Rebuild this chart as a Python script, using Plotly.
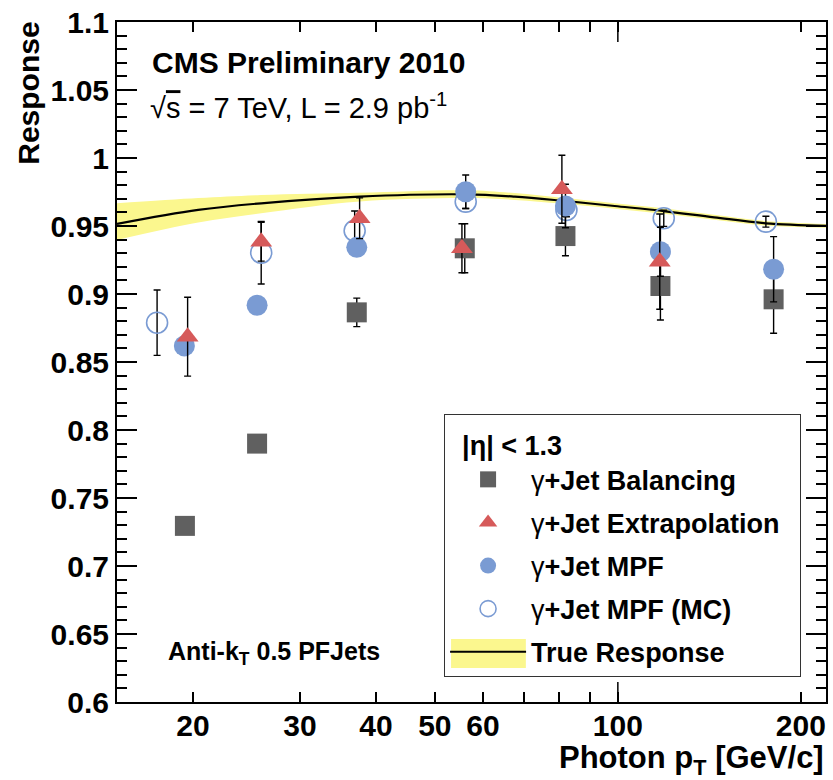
import plotly.graph_objects as go

# ---------------- data ----------------
bal_x = [19.4, 25.5, 37.2, 56.0, 82.0, 117.5, 180.4]
bal_y = [0.7295, 0.790, 0.8865, 0.9336, 0.9426, 0.9059, 0.8961]
bal_err = [0.004, 0.004, 0.0105, 0.018, 0.0145, 0.025, 0.025]

ext_x = [19.6, 25.9, 37.6, 55.4, 80.9, 117.2]
ext_y = [0.8686, 0.9385, 0.9557, 0.9336, 0.977, 0.9238]
ext_err = [0.029, 0.0143, 0.015, 0.018, 0.025, 0.035]

mpf_x = [19.36, 25.5, 37.2, 56.2, 82.0, 117.5, 180.4]
mpf_y = [0.8618, 0.8917, 0.9343, 0.9752, 0.9647, 0.9311, 0.9182]
mpf_err = [0.006, 0.006, 0.006, 0.0123, 0.016, 0.018, 0.024]

mc_x = [17.46, 25.9, 36.9, 56.2, 82.3, 119.0, 175.2]
mc_y = [0.8789, 0.9304, 0.9465, 0.9679, 0.9618, 0.9557, 0.9532]
mc_err = [0.024, 0.023, 0.0145, 0.005, 0.005, 0.006, 0.004]

true_x = [15.0, 20.4, 25.9, 37.6, 56.2, 67.7, 80.9, 98.8, 119.0, 144.0, 175.0, 220.0]
true_y = [0.9515, 0.9618, 0.9667, 0.9716, 0.9733, 0.9716, 0.9686, 0.9647, 0.9610, 0.9564, 0.9520, 0.9502]
band_hi = [0.9667, 0.9705, 0.9728, 0.9745, 0.9763, 0.9742, 0.9708, 0.9668, 0.9630, 0.9583, 0.9537, 0.9515]
band_lo = [0.9397, 0.9525, 0.9593, 0.9680, 0.9705, 0.9692, 0.9665, 0.9627, 0.9590, 0.9546, 0.9503, 0.9488]

x_tickvals = [20, 30, 40, 50, 60, 70, 80, 90, 100, 200]
x_ticktext = ["20", "30", "40", "50", "60", "", "", "", "100", "200"]
y_tickvals = [0.6, 0.65, 0.7, 0.75, 0.8, 0.85, 0.9, 0.95, 1.0, 1.05, 1.1]
y_ticktext = ["0.6", "0.65", "0.7", "0.75", "0.8", "0.85", "0.9", "0.95", "1", "1.05", "1.1"]

# ---------------- style ----------------
FONT = "Liberation Sans, Arial, Helvetica, sans-serif"
C_BAL = "#606060"
C_EXT = "#d65a5a"
C_MPF = "#7a9bd3"
C_BAND = "#fbf78e"

W, H = 833, 780
ML, MR, MT, MB = 117, 5, 22, 78
PW, PH = W - ML - MR, H - MT - MB


def px(x):
    return (x - ML) / PW


def py(y):
    return (H - MB - y) / PH


G = "<span style='font-weight:normal'>γ</span>"

fig = go.Figure()

# True response band + line
fig.add_trace(go.Scatter(x=true_x, y=band_lo, mode="lines", line=dict(width=0, shape="spline"),
                         showlegend=False, hoverinfo="skip"))
fig.add_trace(go.Scatter(x=true_x, y=band_hi, mode="lines", line=dict(width=0, shape="spline"),
                         fill="tonexty", fillcolor=C_BAND, showlegend=False, hoverinfo="skip"))
fig.add_trace(go.Scatter(x=true_x, y=true_y, mode="lines", name="True Response",
                         line=dict(color="black", width=2.2, shape="spline"),
                         legendrank=5, legendgroup="g5"))

err_style = dict(type="data", visible=True, color="black", thickness=1.4, width=3.5)

fig.add_trace(go.Scatter(x=mc_x, y=mc_y, mode="markers", name=G + "+Jet MPF (MC)",
                         marker=dict(symbol="circle-open", size=21, color=C_MPF, line=dict(width=1.6, color=C_MPF)),
                         error_y=dict(array=mc_err, **err_style), legendrank=4, legendgroup="g4"))
fig.add_trace(go.Scatter(x=bal_x, y=bal_y, mode="markers", name=G + "+Jet Balancing",
                         marker=dict(symbol="square", size=20, color=C_BAL),
                         error_y=dict(array=bal_err, **err_style), legendrank=1, legendgroup="g1"))
fig.add_trace(go.Scatter(x=mpf_x, y=mpf_y, mode="markers", name=G + "+Jet MPF",
                         marker=dict(symbol="circle", size=21, color=C_MPF),
                         error_y=dict(array=mpf_err, **err_style), legendrank=3, legendgroup="g3"))
fig.add_trace(go.Scatter(x=ext_x, y=ext_y, mode="markers", name=G + "+Jet Extrapolation\u00a0\u00a0",
                         marker=dict(symbol="triangle-up", size=19, color=C_EXT),
                         error_y=dict(array=ext_err, **err_style), legendrank=2, legendgroup="g2"))

axis_common = dict(showline=True, linecolor="black", linewidth=2, mirror="ticks", ticks="inside",
                   tickcolor="black", tickwidth=1.5, showgrid=False, zeroline=False,
                   tickfont=dict(family=FONT, size=30, color="black", weight="bold"))

fig.update_xaxes(type="log", range=[1.17609, 2.34242], tickmode="array", tickvals=x_tickvals,
                 ticktext=x_ticktext, ticklen=10, ticklabelstandoff=-4, **axis_common)
fig.update_yaxes(range=[0.6, 1.1], tickmode="array", tickvals=y_tickvals, ticktext=y_ticktext,
                 ticklen=20, minor=dict(dtick=0.01, tick0=0.6, ticklen=10, ticks="inside",
                                        tickcolor="black", tickwidth=1.5), **axis_common)

shapes = [
    # long tick at 100 (bottom and top)
    dict(type="line", xref="x", yref="paper", x0=100, x1=100, y0=0, y1=20 / PH,
         line=dict(color="black", width=1.5)),
    dict(type="line", xref="x", yref="paper", x0=100, x1=100, y0=1 - 20 / PH, y1=1,
         line=dict(color="black", width=1.5)),
    # yellow patch of the "True Response" legend symbol
    dict(type="rect", xref="paper", yref="paper", x0=px(452), x1=px(527), y0=py(668), y1=py(639),
         fillcolor=C_BAND, line=dict(width=0), layer="below"),
]

annotations = [
    dict(text="CMS Preliminary 2010", x=px(150), y=py(62), xanchor="left", yanchor="middle",
         font=dict(family=FONT, size=30, color="black", weight="bold")),
    dict(text="√<span style='text-decoration:overline'>s</span> = 7 TeV, L = 2.9 pb<sup>-1</sup>",
         x=px(148), y=py(106), xanchor="left", yanchor="middle",
         font=dict(family=FONT, size=29, color="black")),
    dict(text="Anti-k<sub>T</sub> 0.5 PFJets", x=px(166), y=py(653), xanchor="left", yanchor="middle",
         font=dict(family=FONT, size=25, color="black", weight="bold")),
    dict(text="Response", x=px(28), y=py(20), xanchor="center", yanchor="top", textangle=-90,
         font=dict(family=FONT, size=30, color="black", weight="bold")),
    dict(text="Photon p<sub>T</sub> [GeV/c]", x=px(828), y=py(760), xanchor="right", yanchor="middle",
         font=dict(family=FONT, size=31, color="black", weight="bold")),
]
for a in annotations:
    a.update(xref="paper", yref="paper", showarrow=False)

fig.update_layout(
    width=W, height=H,
    margin=dict(l=ML, r=MR, t=MT, b=MB),
    paper_bgcolor="white", plot_bgcolor="white",
    shapes=shapes, annotations=annotations,
    legend=dict(x=px(445), y=py(414), xanchor="left", yanchor="top",
                bgcolor="rgba(0,0,0,0)", bordercolor="#333333", borderwidth=1,
                itemwidth=76, tracegroupgap=5, traceorder="grouped",
                title=dict(text="<span style='font-size:27px'>\u00a0\u00a0|η| < 1.3</span>",
                           font=dict(family=FONT, size=31, color="black", weight="bold")),
                font=dict(family=FONT, size=27, color="black", weight="bold")),
)

fig.write_html("out.html")
